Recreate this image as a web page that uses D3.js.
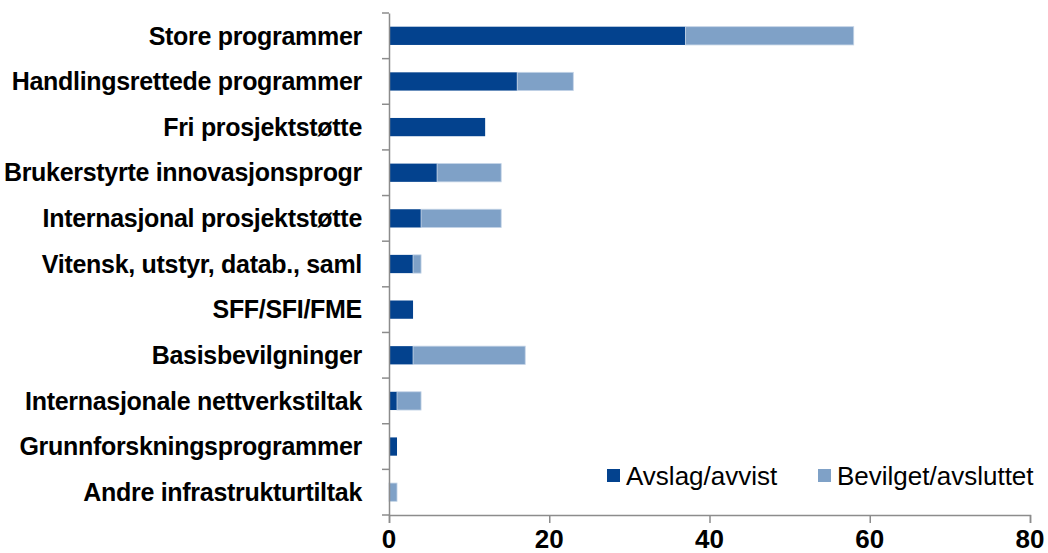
<!DOCTYPE html>
<html>
<head>
<meta charset="utf-8">
<script src="https://cdn.jsdelivr.net/npm/d3@7"></script>
<style>
    body { margin: 0; background: #fff; }
    svg { display: block; font-family: "Liberation Sans", Arial, sans-serif; }
    .catLabel { font-size: 25px; font-weight: bold; letter-spacing: -0.3px; fill: #000; }
    .tickLabel { font-size: 26px; font-weight: bold; fill: #000; }
    .legendText { font-size: 26px; fill: #000; }
</style>
</head>
<body>
<div id="plotSect"></div>
<script>
// data //
let categories = ["Store programmer", "Handlingsrettede programmer", "Fri prosjektstøtte",
    "Brukerstyrte innovasjonsprogr", "Internasjonal prosjektstøtte", "Vitensk, utstyr, datab., saml",
    "SFF/SFI/FME", "Basisbevilgninger", "Internasjonale nettverkstiltak",
    "Grunnforskningsprogrammer", "Andre infrastrukturtiltak"];
let avslag = [37, 16, 12, 6, 4, 3, 3, 3, 1, 1, 0];
let bevilget = [21, 7, 0, 8, 10, 1, 0, 14, 3, 0, 1];
let seriesNames = ["Avslag/avvist", "Bevilget/avsluttet"];
let seriesColors = ["#03428e", "#7fa1c7"];
let xTicks = [0, 20, 40, 60, 80];

let SVGwidth = 1048,
    SVGheight = 553;

let svg = d3.select("#plotSect").append("svg")
    .attr("width", SVGwidth)
    .attr("height", SVGheight);

let xScale = d3.scaleLinear().domain([0, 80]).range([389, 1030]);
let yScale = d3.scaleBand().domain(categories).range([13, 515]);
let barH = yScale.bandwidth() * 0.4;
let barOff = yScale.bandwidth() * 0.3;

// stacked rows
let rows = categories.map(function(c, i) {
    return {name: c, a: avslag[i], b: bevilget[i]};
});

svg.selectAll(".barA")
    .data(rows)
    .enter().append("rect")
    .attr("class", "barA")
    .attr("x", xScale(0))
    .attr("y", function(d) { return yScale(d.name) + barOff; })
    .attr("width", function(d) { return xScale(d.a) - xScale(0); })
    .attr("height", barH)
    .style("fill", seriesColors[0]);

svg.selectAll(".barB")
    .data(rows.filter(function(d) { return d.b > 0; }))
    .enter().append("rect")
    .attr("class", "barB")
    .attr("x", function(d) { return xScale(d.a); })
    .attr("y", function(d) { return yScale(d.name) + barOff; })
    .attr("width", function(d) { return xScale(d.a + d.b) - xScale(d.a); })
    .attr("height", barH)
    .style("fill", seriesColors[1])
    .style("stroke", "#c3d3e6")
    .style("stroke-width", 0.8);

// axes
let yAxis = d3.axisLeft(yScale).tickSize(0).tickFormat("");
let yG = svg.append("g")
    .attr("transform", "translate(" + xScale(0) + ",0)")
    .call(yAxis);
yG.select(".domain").attr("stroke", "#8c8c8c").attr("stroke-width", 1.5);

// tick marks at band boundaries
let bounds = categories.map(function(c) { return yScale(c); }).concat([yScale.range()[1]]);
svg.selectAll(".yTick")
    .data(bounds)
    .enter().append("line")
    .attr("class", "yTick")
    .attr("x1", xScale(0) - 7)
    .attr("x2", xScale(0))
    .attr("y1", function(d) { return d; })
    .attr("y2", function(d) { return d; })
    .attr("stroke", "#8c8c8c")
    .attr("stroke-width", 1.5);

svg.selectAll(".catLabel")
    .data(categories)
    .enter().append("text")
    .attr("class", "catLabel")
    .attr("x", 362)
    .attr("y", function(d) { return yScale(d) + yScale.bandwidth() / 2; })
    .attr("dy", "0.35em")
    .style("text-anchor", "end")
    .text(function(d) { return d; });

let xAxis = d3.axisBottom(xScale).tickValues(xTicks).tickSize(8).tickFormat("");
let xG = svg.append("g")
    .attr("transform", "translate(0," + yScale.range()[1] + ")")
    .call(xAxis);
xG.select(".domain").attr("stroke", "#8c8c8c").attr("stroke-width", 1.5);
xG.selectAll(".tick line").attr("stroke", "#8c8c8c").attr("stroke-width", 1.5);

svg.selectAll(".tickLabel")
    .data(xTicks)
    .enter().append("text")
    .attr("class", "tickLabel")
    .attr("x", function(d) { return xScale(d); })
    .attr("y", 548)
    .style("text-anchor", "middle")
    .text(function(d) { return d; });

// legend
let legendX = [607, 818];
let legend = svg.selectAll(".legend")
    .data(seriesNames)
    .enter().append("g")
    .attr("class", "legend")
    .attr("transform", function(d, i) { return "translate(" + legendX[i] + ",469)"; });

legend.append("rect")
    .attr("width", 13)
    .attr("height", 13)
    .style("fill", function(d, i) { return seriesColors[i]; });

legend.append("text")
    .attr("class", "legendText")
    .attr("x", 19)
    .attr("y", 6.5)
    .attr("dy", "0.35em")
    .text(function(d) { return d; });
</script>
</body>
</html>
